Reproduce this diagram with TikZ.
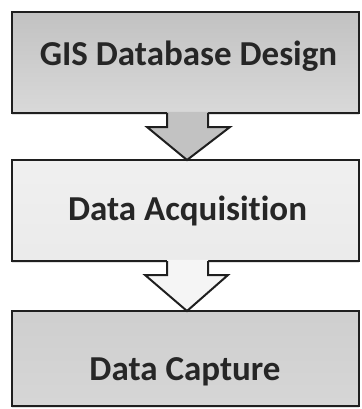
\documentclass[tikz,border=0pt]{standalone}
\usepackage{fontspec}
\setmainfont{Carlito}[Ligatures={NoCommon,NoRare,NoContextual}]
\usetikzlibrary{calc,shadows}
\begin{document}
\begin{tikzpicture}[x=1pt,y=-1pt,
  box/.style={draw=black!88, line width=2pt, minimum width=347pt, inner sep=0pt, outer sep=0pt,
    drop shadow={fill=black, opacity=0.12, shadow xshift=0.5pt, shadow yshift=-2pt}},
  lbl/.style={font=\fontsize{35}{38}\selectfont\bfseries, text=black!85, inner sep=0pt, anchor=base},
  arr/.style={draw=black!88, line width=2pt, line join=miter, miter limit=10}]
\useasboundingbox (0,0) rectangle (361,409);
\node[box, minimum height=101pt, top color=black!24, bottom color=black!15] (b1) at (185,62.5) {};
\node[box, minimum height=101pt, top color=black!6, bottom color=black!8] (b2) at (185,210.5) {};
\node[box, minimum height=95pt, top color=black!19, bottom color=black!16] (b3) at (185,358.5) {};
\node[lbl] (t1) at (188.5,65.5) {GIS Database Design};
\node[lbl] (t2) at (187.5,220.5) {Data Acquisition};
\node[lbl] (t3) at (185,380.5) {Data Capture};
% arrow 1
\fill[black!24] ($(b1.south)+(-18,-1.2)$) -- ($(b1.south)+(-18,14)$) -- ($(b1.south)+(-38,14)$)
  -- ($(b2.north)+(2,0)$) -- ($(b1.south)+(45,14)$) -- ($(b1.south)+(23,14)$) -- ($(b1.south)+(23,-1.2)$) -- cycle;
\draw[arr] ($(b1.south)+(-18,0)$) -- ($(b1.south)+(-18,14)$) -- ($(b1.south)+(-38,14)$)
  -- ($(b2.north)+(2,0)$) -- ($(b1.south)+(45,14)$) -- ($(b1.south)+(23,14)$) -- ($(b1.south)+(23,0)$);
% arrow 2
\fill[black!4] ($(b2.south)+(-18,-1.2)$) -- ($(b2.south)+(-18,14)$) -- ($(b2.south)+(-40,14)$)
  -- ($(b3.north)+(2,0)$) -- ($(b2.south)+(43,14)$) -- ($(b2.south)+(23,14)$) -- ($(b2.south)+(23,-1.2)$) -- cycle;
\draw[arr] ($(b2.south)+(-18,0)$) -- ($(b2.south)+(-18,14)$) -- ($(b2.south)+(-40,14)$)
  -- ($(b3.north)+(2,0)$) -- ($(b2.south)+(43,14)$) -- ($(b2.south)+(23,14)$) -- ($(b2.south)+(23,0)$);
\end{tikzpicture}
\end{document}
